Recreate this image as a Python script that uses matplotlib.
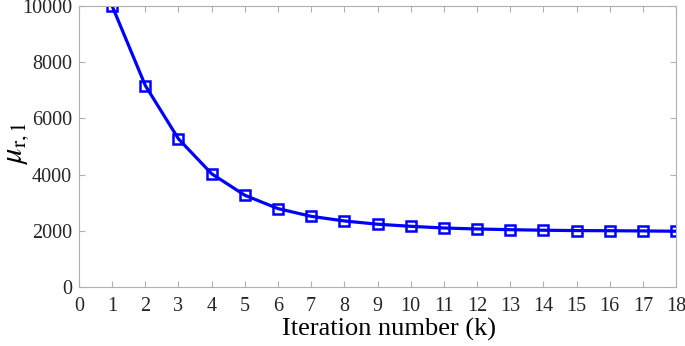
import matplotlib
matplotlib.use('Agg')
import matplotlib.pyplot as plt

iterations = list(range(1, 19))
mu_r1 = [10000, 7170, 5270, 4030, 3265, 2790, 2515, 2350, 2235, 2160,
         2100, 2065, 2040, 2020, 2008, 2003, 1995, 1985]

plt.rcParams['font.family'] = ['Liberation Serif', 'DejaVu Serif']
plt.rcParams['mathtext.fontset'] = 'stix'

fig = plt.figure(figsize=(6.85, 3.46), dpi=100)
ax = fig.add_axes([0.1153, 0.1705, 0.8716, 0.8122])

ax.plot(iterations, mu_r1, color='#0000ff', linewidth=2.3,
        marker='s', markersize=7.5, markerfacecolor='none',
        markeredgewidth=1.8, markeredgecolor='#0000ff')

ax.set_xlim(0, 18)
ax.set_ylim(0, 10000)
ax.set_xticks(range(0, 19))
ax.set_yticks(range(0, 10001, 2000))

for s in ax.spines.values():
    s.set_color('#b0b0b0')
    s.set_linewidth(0.8)
ax.tick_params(direction='in', length=4, width=0.8, color='#b0b0b0',
               top=True, right=True, labelsize=14.5, labelcolor='#262626')
ax.tick_params(axis='x', pad=7)
ax.tick_params(axis='y', pad=5)

ax.set_xlabel('Iteration number (k)', fontsize=19, color='black')
ax.xaxis.set_label_coords(0.52, -0.11)
ax.set_ylabel(r'$\mu_{\mathrm{r},1}$', fontsize=22, color='black')
ax.yaxis.set_label_coords(-0.08, 0.51)

fig.savefig('out.png', dpi=100)
plt.close()
